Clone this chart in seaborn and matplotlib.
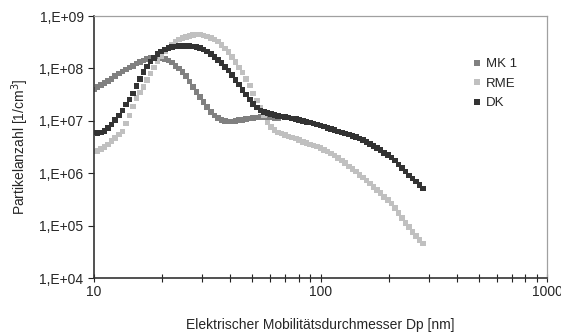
import numpy as np
import pandas as pd
import matplotlib
matplotlib.use("Agg")
import matplotlib.pyplot as plt
import seaborn as sns
from matplotlib.ticker import LogLocator, NullFormatter, FixedLocator, FixedFormatter

# Mobility diameter channels [nm]
diameter_nm = [
    10.00, 10.37, 10.75, 11.14, 11.55, 11.97, 12.41, 12.86, 13.34, 13.82,
    14.33, 14.86, 15.40, 15.97, 16.55, 17.15, 17.78, 18.43, 19.11, 19.81,
    20.54, 21.29, 22.07, 22.88, 23.71, 24.58, 25.48, 26.42, 27.38, 28.39,
    29.43, 30.50, 31.62, 32.78, 33.98, 35.22, 36.52, 37.85, 39.24, 40.68,
    42.17, 43.71, 45.32, 46.98, 48.70, 50.48, 52.33, 54.25, 56.23, 58.29,
    60.43, 62.65, 64.94, 67.32, 69.78, 72.34, 74.99, 77.74, 80.58, 83.54,
    86.60, 89.77, 93.06, 96.47, 100.0, 103.7, 107.5, 111.4, 115.5, 119.7,
    124.1, 128.6, 133.4, 138.2, 143.3, 148.6, 154.0, 159.7, 165.5, 171.5,
    177.8, 184.3, 191.1, 198.1, 205.4, 212.9, 220.7, 228.8, 237.1, 245.8,
    254.8, 264.2, 273.8, 283.9,
]

# log10 of particle number [1/cm^3]
mk1_log10 = [
    7.60, 7.64, 7.68, 7.72, 7.76, 7.80, 7.85, 7.90, 7.94, 7.98,
    8.02, 8.05, 8.09, 8.12, 8.15, 8.18, 8.20, 8.21, 8.21, 8.20,
    8.18, 8.15, 8.11, 8.05, 8.00, 7.93, 7.85, 7.75, 7.65, 7.55,
    7.45, 7.36, 7.26, 7.17, 7.10, 7.05, 7.02, 7.00, 6.99, 6.99,
    7.00, 7.01, 7.02, 7.03, 7.04, 7.05, 7.06, 7.07, 7.07, 7.07,
    7.06, 7.05, 7.04,
]
rme_log10 = [
    6.41, 6.42, 6.46, 6.50, 6.55, 6.61, 6.67, 6.74, 6.80, 6.95,
    7.10, 7.27, 7.43, 7.54, 7.64, 7.78, 7.90, 8.02, 8.13, 8.23,
    8.32, 8.39, 8.46, 8.51, 8.55, 8.58, 8.60, 8.62, 8.64, 8.65,
    8.65, 8.63, 8.61, 8.58, 8.55, 8.51, 8.45, 8.38, 8.31, 8.22,
    8.12, 8.02, 7.92, 7.80, 7.67, 7.52, 7.39, 7.25, 7.10, 6.97,
    6.88, 6.82, 6.78, 6.76, 6.73, 6.70, 6.68, 6.66, 6.63, 6.60,
    6.58, 6.55, 6.53, 6.51, 6.48, 6.44, 6.41, 6.38, 6.34, 6.29,
    6.24, 6.19, 6.13, 6.08, 6.03, 5.97, 5.92, 5.86, 5.80, 5.74,
    5.68, 5.62, 5.55, 5.49, 5.42, 5.34, 5.24, 5.14, 5.05, 4.97,
    4.88, 4.80, 4.73, 4.66,
]
dk_log10 = [
    6.78, 6.77, 6.78, 6.81, 6.86, 6.93, 7.01, 7.10, 7.20, 7.31,
    7.41, 7.52, 7.66, 7.80, 7.93, 8.04, 8.13, 8.20, 8.27, 8.32,
    8.36, 8.39, 8.41, 8.42, 8.43, 8.43, 8.43, 8.43, 8.42, 8.41,
    8.39, 8.36, 8.32, 8.27, 8.22, 8.16, 8.10, 8.03, 7.96, 7.87,
    7.78, 7.69, 7.59, 7.50, 7.41, 7.32, 7.25, 7.20, 7.17, 7.15,
    7.13, 7.11, 7.09, 7.08, 7.07, 7.06, 7.04, 7.03, 7.01, 7.00,
    6.98, 6.97, 6.95, 6.93, 6.91, 6.89, 6.86, 6.84, 6.82, 6.80,
    6.78, 6.76, 6.74, 6.71, 6.69, 6.66, 6.63, 6.60, 6.56, 6.52,
    6.48, 6.44, 6.39, 6.35, 6.30, 6.24, 6.17, 6.10, 6.03, 5.96,
    5.90, 5.84, 5.77, 5.71,
]

series_names = ["MK 1", "RME", "DK"]
series_colors = ["#808080", "#c0c0c0", "#333333"]
y_ticks = [1e4, 1e5, 1e6, 1e7, 1e8, 1e9]
y_tick_labels = ["1,E+04", "1,E+05", "1,E+06", "1,E+07", "1,E+08", "1,E+09"]
x_ticks = [10, 100, 1000]
x_tick_labels = ["10", "100", "1000"]

frames = []
for name, vals in zip(series_names, [mk1_log10, rme_log10, dk_log10]):
    frames.append(pd.DataFrame({
        "Dp": diameter_nm[:len(vals)],
        "N": 10 ** np.array(vals),
        "Serie": name,
    }))
df = pd.concat(frames, ignore_index=True)

sns.set_style("white")
plt.rcParams["font.family"] = ["Liberation Sans", "DejaVu Sans"]

fig = plt.figure(figsize=(5.61, 3.35), dpi=100)
ax = fig.add_axes([94 / 561, 1 - 278 / 335, (547 - 94) / 561, (278 - 16) / 335])

sns.scatterplot(data=df, x="Dp", y="N", hue="Serie", hue_order=series_names,
                palette=series_colors, marker="s", s=16, linewidth=0,
                ax=ax, legend=False)

ax.set_xscale("log")
ax.set_yscale("log")
ax.set_xlim(10, 1000)
ax.set_ylim(1e4, 1e9)

ax.xaxis.set_major_locator(FixedLocator(x_ticks))
ax.xaxis.set_major_formatter(FixedFormatter(x_tick_labels))
ax.xaxis.set_minor_locator(LogLocator(base=10, subs=np.arange(2, 10)))
ax.xaxis.set_minor_formatter(NullFormatter())
ax.yaxis.set_major_locator(FixedLocator(y_ticks))
ax.yaxis.set_major_formatter(FixedFormatter(y_tick_labels))
ax.yaxis.set_minor_locator(FixedLocator([]))

ax.tick_params(axis="x", which="both", direction="inout", length=6, width=0.8,
               color="#222222", labelsize=10, pad=2, bottom=True)
ax.tick_params(axis="y", which="major", direction="out", length=4.5, width=0.8,
               color="#222222", labelsize=10, pad=3, left=True)

for side in ["left", "bottom"]:
    ax.spines[side].set_color("#333333")
    ax.spines[side].set_linewidth(1.2)
for side in ["top", "right"]:
    ax.spines[side].set_color("#a0a0a0")
    ax.spines[side].set_linewidth(0.9)

ax.set_xlabel("Elektrischer Mobilitätsdurchmesser Dp [nm]", fontsize=10, labelpad=14)
ax.set_ylabel("Partikelanzahl [1/cm$^3$]", fontsize=10, labelpad=6)

handles = [plt.Line2D([], [], marker="s", linestyle="", color=c, markersize=4,
                      markeredgewidth=0) for c in series_colors]
ax.legend(handles, series_names, loc="upper left", bbox_to_anchor=(0.825, 0.86),
          frameon=False, fontsize=9.5, handlelength=0.6, handletextpad=0.4,
          labelspacing=0.55, borderaxespad=0)

fig.savefig("out.png", dpi=100)
